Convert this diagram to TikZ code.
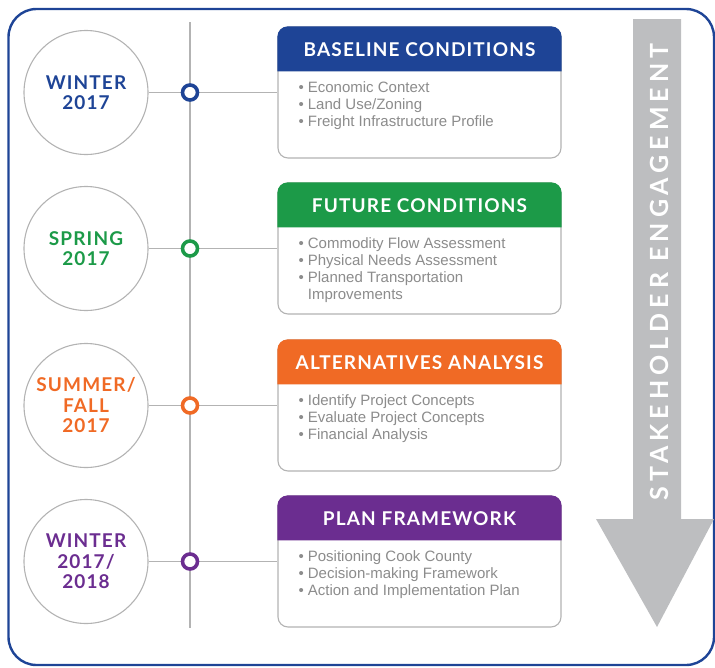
\documentclass[tikz,border=0pt]{standalone}
\usepackage{fontspec}
\setmainfont{Liberation Sans}
\newfontfamily\headfont[LetterSpace=6]{Lato}
\newfontfamily\arrowfont[LetterSpace=20]{Lato}
\usetikzlibrary{calc}
\definecolor{cblue}{HTML}{1E4496}
\definecolor{cgreen}{HTML}{1C9A48}
\definecolor{corange}{HTML}{F06A25}
\definecolor{cpurple}{HTML}{6B2D90}
\definecolor{txtgray}{HTML}{8C8C8C}
\definecolor{linegray}{HTML}{B3B3B3}
\definecolor{arrowgray}{HTML}{BDBEC0}
\tikzset{
  tcirc/.style={circle, draw=linegray, line width=1.1pt, minimum size=124pt, inner sep=0pt, align=center,
    font=\headfont\bfseries\fontsize{19}{20.5}\selectfont},
  tdot/.style={circle, draw=#1, line width=3.6pt, fill=white, minimum size=15pt, inner sep=0pt},
  tbody/.style={rectangle, rounded corners=10pt, draw=linegray, line width=1.1pt, fill=white,
    minimum width=283pt, minimum height=131pt, inner sep=0pt},
  thead/.style={text=white, font=\headfont\bfseries\fontsize{19}{20}\selectfont, inner sep=0pt},
  tlist/.style={anchor=north west, text=txtgray, font=\fontsize{15}{17}\selectfont, inner sep=0pt, align=left},
  conn/.style={draw=linegray, line width=1.1pt},
}
\newcommand{\bl}{\textbullet\hspace{4pt}}
\begin{document}
\begin{tikzpicture}[x=1pt,y=-1pt]
\useasboundingbox (0,0) rectangle (715,667);
% outer frame
\draw[cblue, line width=2.4pt, rounded corners=28pt] (8.5,9) rectangle (714,665);
% arrow
\fill[arrowgray] (633,19) -- (681,19) -- (681,519) -- (714,519) -- (657,627) -- (596,519) -- (633,519) -- cycle;
\node[rotate=90, text=white, font=\arrowfont\bfseries\fontsize{25}{26}\selectfont, inner sep=0pt] (arrowtxt) at (659,272) {STAKEHOLDER ENGAGEMENT};
% timeline
\coordinate (vt) at (190,22);
\coordinate (vb) at (190,628);
\draw[conn] (vt) -- (vb);
% stages
\foreach \i/\yy/\col/\ctext/\htext/\items in {
  1/92.5/cblue/{WINTER\\2017}/{BASELINE CONDITIONS}/{\bl Economic Context\\\bl Land Use/Zoning\\\bl Freight Infrastructure Profile},
  2/248.5/cgreen/{SPRING\\2017}/{FUTURE CONDITIONS}/{\bl Commodity Flow Assessment\\\bl Physical Needs Assessment\\\bl Planned Transportation\\\phantom{\bl}Improvements},
  3/405.5/corange/{SUMMER/\\FALL\\2017}/{ALTERNATIVES ANALYSIS}/{\bl Identify Project Concepts\\\bl Evaluate Project Concepts\\\bl Financial Analysis},
  4/561.5/cpurple/{WINTER\\2017/\\2018}/{PLAN FRAMEWORK}/{\bl Positioning Cook County\\\bl Decision-making Framework\\\bl Action and Implementation Plan}}
{
  \node[tcirc, text=\col] (c\i) at (86,\yy) {\ctext};
  \node[tbody] (b\i) at (419.5,\yy) {};
  \fill[\col] ($(b\i.north west)+(0,45)$) [rounded corners=10pt] -- (b\i.north west) -- (b\i.north east) [sharp corners] -- ($(b\i.north east)+(0,45)$) -- cycle;
  \node[thead] (h\i) at ($(b\i.north)+(0,23)$) {\htext};
  \node[tlist] (t\i) at ($(b\i.north west)+(21,55)$) {\items};
  \draw[conn] (c\i) -- (b\i);
  \node[tdot=\col] (d\i) at (190,\yy) {};
}
\end{tikzpicture}
\end{document}
